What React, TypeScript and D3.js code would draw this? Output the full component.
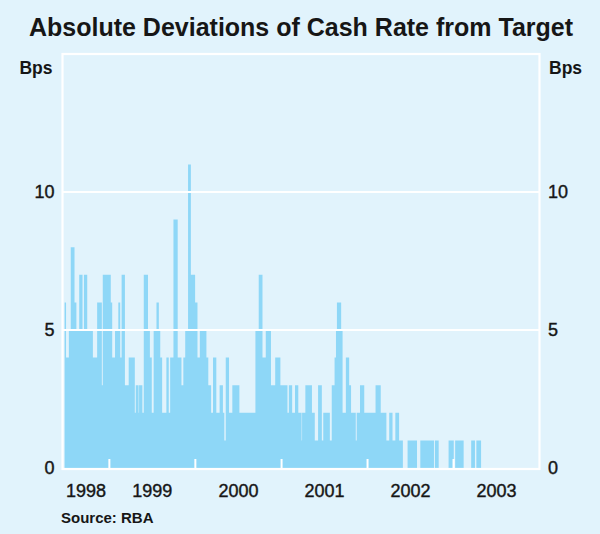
import React, { useRef, useEffect } from "react";
import * as d3 from "d3";

// Absolute deviation of the cash rate from target (bps), read as runs of
// consecutive business days: runValues[i] holds for runDays[i] days
const runValues = [
  6, 4, 5, 8, 6, 5, 7, 5, 7, 5, 4, 6, 3, 7, 6, 4, 5, 6, 4, 7, 3, 4, 2,
  3, 2, 3, 2, 7, 5, 4, 2, 5, 6, 5, 4, 2, 4, 2, 4, 9, 4, 3, 4, 5, 11, 7, 6, 4, 5, 4, 3, 2,
  4, 2, 3, 2, 1, 4, 2, 3, 2, 5, 7, 4, 5, 3, 4, 3, 2, 3,
  3, 2, 3, 2, 1, 2, 3, 2, 1, 3, 1, 2, 1, 3, 4, 5, 6, 5, 2, 4, 3, 2, 1, 2, 3, 2,
  2, 3, 2, 1, 2, 1, 2, 1, 0, 1, 0, 1, 0, 1, 0, 1, 0, 1, 0, 1, 0, 1,
];
const runDays = [
  4, 8, 6, 12, 6, 8, 10, 4, 10, 18, 12, 14, 4, 24, 4, 8, 10, 6, 4, 10, 12, 18, 4,
  8, 2, 10, 4, 12, 6, 6, 6, 8, 8, 4, 6, 12, 8, 4, 10, 12, 12, 6, 6, 8, 8, 14, 6, 8, 20, 6, 8, 6,
  10, 10, 10, 4, 4, 10, 10, 22, 48, 10, 12, 10, 16, 12, 16, 22, 4, 4,
  6, 8, 10, 10, 2, 10, 20, 8, 10, 12, 4, 20, 6, 8, 4, 4, 12, 4, 10, 10, 6, 14, 4, 10, 12, 10,
  24, 16, 18, 8, 10, 8, 12, 12, 14, 28, 10, 42, 2, 12, 30, 16, 4, 26, 22, 12, 4, 14,
];
const seriesStart = "1998-06-25";
const axisStart = "1998-06-16";
const axisEnd = "2004-01-01";

const yearLabels = ["1998", "1999", "2000", "2001", "2002", "2003"];
const yTicks = [0, 5, 10];
const gridValues = [5, 10];

const FONT = "'Liberation Sans', Arial, Helvetica, sans-serif";
const BG = "#e1f3fc";
const BAR = "#8ed7f7";
const INK = "#161616";

const App: React.FC = () => {
  const ref = useRef<SVGSVGElement | null>(null);

  useEffect(() => {
    const svg = d3.select(ref.current);
    svg.selectAll("*").remove();

    const W = 600;
    const H = 534;
    const plot = { left: 62.5, right: 539.5, top: 54, bottom: 468 };

    const parseDate = d3.timeParse("%Y-%m-%d");

    // expand runs into a business-day series
    const series: { date: Date; value: number }[] = [];
    let day = parseDate(seriesStart) as Date;
    const nextWeekday = (d: Date) => {
      let n = d3.timeDay.offset(d, 1);
      while (n.getDay() === 0 || n.getDay() === 6) n = d3.timeDay.offset(n, 1);
      return n;
    };
    runValues.forEach((v, i) => {
      for (let k = 0; k < runDays[i]; k++) {
        series.push({ date: day, value: v });
        day = nextWeekday(day);
      }
    });
    // closing point so the last step has a width
    series.push({ date: day, value: series[series.length - 1].value });

    const x = d3
      .scaleTime()
      .domain([parseDate(axisStart) as Date, parseDate(axisEnd) as Date])
      .range([plot.left, plot.right]);

    const y = d3.scaleLinear().domain([0, 15]).range([plot.bottom, plot.top]);

    svg.attr("viewBox", `0 0 ${W} ${H}`).attr("width", W).attr("height", H);

    svg.append("rect").attr("width", W).attr("height", H).attr("fill", BG);

    // title
    svg
      .append("text")
      .attr("x", W / 2 + 1)
      .attr("y", 36)
      .attr("text-anchor", "middle")
      .style("font-family", FONT)
      .style("font-weight", "bold")
      .style("font-size", "25px")
      .attr("fill", INK)
      .text("Absolute Deviations of Cash Rate from Target");

    // bars as a step area
    const area = d3
      .area<{ date: Date; value: number }>()
      .curve(d3.curveStepAfter)
      .x((d) => x(d.date))
      .y0(y(0))
      .y1((d) => y(d.value));

    svg.append("path").datum(series).attr("fill", BAR).attr("d", area);

    // gridlines
    svg
      .append("g")
      .selectAll("line")
      .data(gridValues)
      .join("line")
      .attr("x1", plot.left)
      .attr("x2", plot.right)
      .attr("y1", (d) => y(d))
      .attr("y2", (d) => y(d))
      .attr("stroke", "#fff")
      .attr("stroke-width", 2);

    // frame
    svg
      .append("rect")
      .attr("x", plot.left)
      .attr("y", plot.top)
      .attr("width", plot.right - plot.left)
      .attr("height", plot.bottom + 1 - plot.top)
      .attr("fill", "none")
      .attr("stroke", "#fff")
      .attr("stroke-width", 2.2);

    // year boundary ticks
    const boundaries = d3.timeYear.range(new Date(1999, 0, 1), new Date(2003, 0, 2));
    svg
      .append("g")
      .selectAll("line")
      .data(boundaries)
      .join("line")
      .attr("x1", (d) => x(d))
      .attr("x2", (d) => x(d))
      .attr("y1", plot.bottom + 1)
      .attr("y2", plot.bottom - 9)
      .attr("stroke", "#fff")
      .attr("stroke-width", 2);

    // year labels centred in each year's span
    const edges = [x.domain()[0], ...d3.timeYear.range(new Date(1999, 0, 1), new Date(2004, 0, 2))];
    svg
      .append("g")
      .selectAll("text")
      .data(yearLabels)
      .join("text")
      .attr("x", (_, i) => (x(edges[i]) + x(edges[i + 1])) / 2)
      .attr("y", 497)
      .attr("text-anchor", "middle")
      .style("font-family", FONT)
      .style("font-size", "18px")
      .attr("fill", INK)
      .attr("stroke", INK)
      .attr("stroke-width", 0.4)
      .text((d) => d);

    // y tick labels both sides
    [
      { xPos: 54.5, anchor: "end" },
      { xPos: 548, anchor: "start" },
    ].forEach((side) => {
      svg
        .append("g")
        .selectAll("text")
        .data(yTicks)
        .join("text")
        .attr("x", side.xPos)
        .attr("y", (d) => y(d) + 6)
        .attr("text-anchor", side.anchor)
        .style("font-family", FONT)
        .style("font-size", "18px")
        .attr("fill", INK)
        .attr("stroke", INK)
        .attr("stroke-width", 0.4)
        .text((d) => d);

      svg
        .append("text")
        .attr("x", side.anchor === "end" ? 52.5 : 549)
        .attr("y", 73.5)
        .attr("text-anchor", side.anchor)
        .style("font-family", FONT)
        .style("font-weight", "bold")
        .style("font-size", "17.5px")
        .attr("fill", INK)
        .text("Bps");
    });

    svg
      .append("text")
      .attr("x", 61)
      .attr("y", 523)
      .style("font-family", FONT)
      .style("font-weight", "bold")
      .style("font-size", "15px")
      .attr("fill", INK)
      .text("Source: RBA");
  }, []);

  return (
    <div style={{ position: "absolute", left: 0, top: 0 }}>
      <svg ref={ref} style={{ display: "block" }} />
    </div>
  );
};

export default App;
